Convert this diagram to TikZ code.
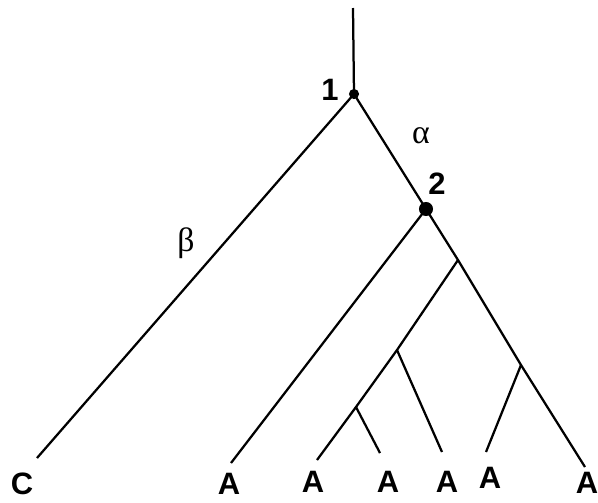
\documentclass[tikz,border=0pt]{standalone}
\usepackage{amsmath, amssymb}
\usepackage{xcolor}
\usepackage{fontspec}
\setmainfont{Liberation Sans}
\newfontfamily\greekfont{Liberation Serif}
\usepackage{tikz}

\begin{document}
\begin{tikzpicture}[x=0.025cm, y=-0.025cm, line width=1.6pt,
  taxon/.style={font=\fontsize{22}{26}\selectfont\bfseries, inner sep=0pt},
  lbl/.style={font=\fontsize{24}{28}\selectfont\greekfont, inner sep=0pt}]
\useasboundingbox (0,0) rectangle (598,502);
% internal nodes
\coordinate (top) at (353,8);
\coordinate (n1) at (354,94);
\coordinate (n2) at (426,209);
\coordinate (n3) at (458,260);
\coordinate (n4) at (397,350);
\coordinate (n5) at (356,407);
\coordinate (n6) at (521,365);
% leaf ends
\coordinate (lc) at (37,458);
\coordinate (la1) at (231,463);
\coordinate (la2) at (317,460);
\coordinate (la3) at (380,453);
\coordinate (la4) at (442,452);
\coordinate (la5) at (486,452);
\coordinate (la6) at (585,467);
% branches
\draw (top) -- (n1) -- (lc);
\draw (n1) -- (n2) -- (n3) -- (n6) -- (la6);
\draw (n2) -- (la1);
\draw (n3) -- (n4) -- (n5) -- (la2);
\draw (n5) -- (la3);
\draw (n4) -- (la4);
\draw (n6) -- (la5);
\fill (n1) circle[radius=3.6pt];
\fill (n2) circle[radius=5pt];
% labels
\node[taxon] (tc) at (22,484) {C};
\foreach \name/\x/\y in {ta1/229/484, ta2/313/482, ta3/388/482, ta4/447/482, ta5/490/478, ta6/587/483}
  \node[taxon] (\name) at (\x,\y) {A};
\node[taxon] (k1) at (330,90) {1};
\node[taxon] (k2) at (437,184) {2};
\node[lbl] (alpha) at (421,136) {α};
\node[lbl] (beta) at (186,243) {β};
\end{tikzpicture}
\end{document}
